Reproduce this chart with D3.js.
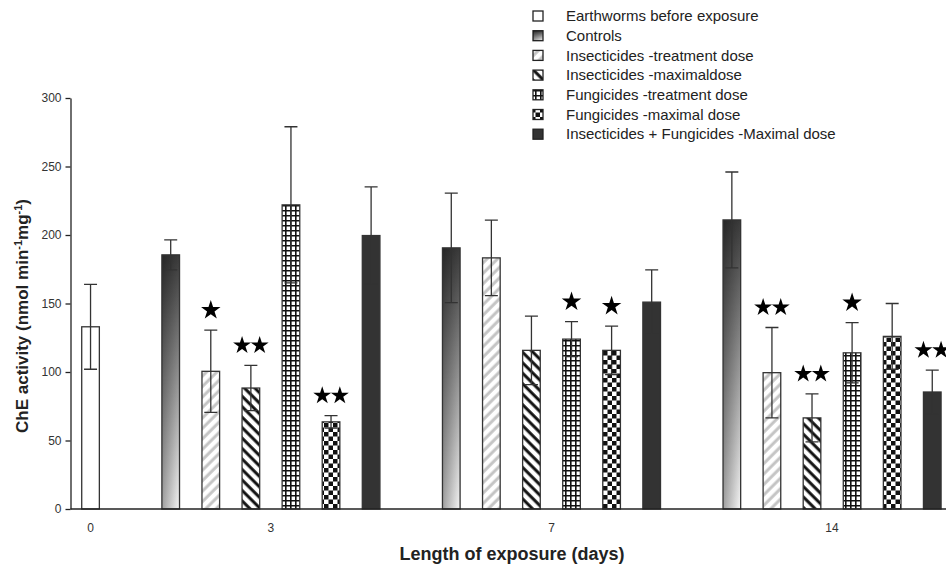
<!DOCTYPE html>
<html><head><meta charset="utf-8">
<script src="https://cdn.jsdelivr.net/npm/d3@7"></script>
<style>body{margin:0;background:#fff}svg{display:block;font-family:"Liberation Sans",Arial,sans-serif}</style>
</head><body><svg id="c" width="946" height="572"></svg>
<script>
// ---------- data ----------
const days = ["0", "3", "7", "14"];
const seriesNames = [
  "Earthworms before exposure",
  "Controls",
  "Insecticides -treatment dose",
  "Insecticides -maximaldose",
  "Fungicides -treatment dose",
  "Fungicides -maximal dose",
  "Insecticides + Fungicides -Maximal dose"
];
// mean ChE activity per day (index = series), null = not measured
const meanDay0  = [133];
const meanDay3  = [null, 185.5, 100.5, 88.3, 222, 63.6, 199.6];
const meanDay7  = [null, 190.6, 183.3, 115.8, 124, 115.8, 151];
const meanDay14 = [null, 211, 99.5, 66.5, 114, 126, 85.4];
// standard deviation (error bars)
const errDay0  = [31];
const errDay3  = [null, 11, 30, 16.5, 57, 4.5, 35.5];
const errDay7  = [null, 40, 27.5, 25, 12.7, 17.7, 23.5];
const errDay14 = [null, 35, 33, 17.5, 22, 24, 16];
// significance stars
const starsDay0  = [0];
const starsDay3  = [0, 0, 1, 2, 0, 2, 0];
const starsDay7  = [0, 0, 0, 0, 1, 1, 0];
const starsDay14 = [0, 0, 2, 2, 1, 0, 2];
const yTicks = [0, 50, 100, 150, 200, 250, 300];

const means = [meanDay0, meanDay3, meanDay7, meanDay14];
const errs  = [errDay0, errDay3, errDay7, errDay14];
const stars = [starsDay0, starsDay3, starsDay7, starsDay14];

// ---------- build ----------
const svg = d3.select("#c");
const W = 946;
const defs = svg.append("defs");

const gv = defs.append("linearGradient").attr("id","gCtrl").attr("x1",0).attr("y1",0).attr("x2",0).attr("y2",1);
gv.append("stop").attr("offset","0%").attr("stop-color","#3a3a3a");
gv.append("stop").attr("offset","100%").attr("stop-color","#f6f6f6");
const gh = defs.append("linearGradient").attr("id","gCtrlH").attr("x1",0).attr("y1",0).attr("x2",1).attr("y2",0);
gh.append("stop").attr("offset","0%").attr("stop-color","#000").attr("stop-opacity",0.35);
gh.append("stop").attr("offset","100%").attr("stop-color","#000").attr("stop-opacity",0);

const p1 = defs.append("pattern").attr("id","pInsT").attr("patternUnits","userSpaceOnUse")
  .attr("width",7.4).attr("height",7.4).attr("patternTransform","rotate(45)");
p1.append("rect").attr("width",7.4).attr("height",7.4).attr("fill","#fff");
p1.append("line").attr("x1",2).attr("y1",0).attr("x2",2).attr("y2",7.4).attr("stroke","#c4c4c4").attr("stroke-width",3);
const p2 = defs.append("pattern").attr("id","pInsM").attr("patternUnits","userSpaceOnUse")
  .attr("width",7.4).attr("height",7.4).attr("patternTransform","rotate(-45)");
p2.append("rect").attr("width",7.4).attr("height",7.4).attr("fill","#fff");
p2.append("line").attr("x1",2).attr("y1",0).attr("x2",2).attr("y2",7.4).attr("stroke","#111").attr("stroke-width",3);
const p3 = defs.append("pattern").attr("id","pFunT").attr("patternUnits","userSpaceOnUse")
  .attr("width",5).attr("height",5);
p3.append("rect").attr("width",5).attr("height",5).attr("fill","#fff");
p3.append("path").attr("d","M0.8,0V5M0,0.8H5").attr("stroke","#111").attr("stroke-width",1.6);
const p4 = defs.append("pattern").attr("id","pFunM").attr("patternUnits","userSpaceOnUse")
  .attr("width",9).attr("height",9);
p4.append("rect").attr("width",9).attr("height",9).attr("fill","#fff");
p4.append("rect").attr("width",4.5).attr("height",4.5).attr("fill","#111");
p4.append("rect").attr("x",4.5).attr("y",4.5).attr("width",4.5).attr("height",4.5).attr("fill","#111");

const fills = ["#ffffff","url(#gCtrl)","url(#pInsT)","url(#pInsM)","url(#pFunT)","url(#pFunM)","#333333"];

const key = (d, s) => d + "|" + s;
const slotKeys = days.flatMap((d, i) => means[i].map((_, s) => key(d, s)));

const x = d3.scaleBand().domain(slotKeys).range([70.5, 952.3]).padding(0);
const y = d3.scaleLinear().domain([0, 300]).range([509, 98]);
const bw = x.bandwidth() * 0.44;

const rows = [];
days.forEach((d, i) => means[i].forEach((v, s) => {
  if (v != null) rows.push({day: d, s, v, e: errs[i][s], st: stars[i][s], k: key(d, s)});
}));
const cx = r => x(r.k) + x.bandwidth() / 2;

const gBars = svg.append("g");
gBars.selectAll("rect.bar").data(rows).join("rect").attr("class","bar")
  .attr("x", r => cx(r) - bw/2).attr("width", bw)
  .attr("y", r => y(r.v)).attr("height", r => y(0) - y(r.v))
  .attr("fill", r => fills[r.s]);
gBars.selectAll("rect.shade").data(rows.filter(r => r.s === 1)).join("rect").attr("class","shade")
  .attr("x", r => cx(r) - bw/2).attr("width", bw)
  .attr("y", r => y(r.v)).attr("height", r => y(0) - y(r.v))
  .attr("fill", "url(#gCtrlH)");
gBars.selectAll("rect.outline").data(rows).join("rect").attr("class","outline")
  .attr("x", r => cx(r) - bw/2).attr("width", bw)
  .attr("y", r => y(r.v)).attr("height", r => y(0) - y(r.v))
  .attr("fill", "none").attr("stroke", "#333").attr("stroke-width", 1.3);

const gErr = svg.append("g").attr("stroke","#333").attr("stroke-width",1.3).attr("fill","none");
const capW = 6.5;
gErr.selectAll("path").data(rows).join("path")
  .attr("d", r => {
    const c = cx(r), t = y(r.v + r.e), b = y(r.v - r.e);
    return `M${c},${t}V${b}M${c-capW},${t}H${c+capW}M${c-capW},${b}H${c+capW}`;
  });

const gStar = svg.append("g").attr("fill","#000");
rows.filter(r => r.st > 0).forEach(r => {
  const c = cx(r), sy = y(r.v + r.e) - 21;
  const n = r.st;
  const sz = n === 1 ? 118 : 100;
  for (let j = 0; j < n; j++) {
    const off = n === 1 ? 0 : (j === 0 ? -8.8 : 8.8);
    gStar.append("path").attr("d", d3.symbol(d3.symbolStar, sz)())
      .attr("transform", `translate(${c + off},${sy + 1})`);
  }
});

const yAxis = d3.axisLeft(y).tickValues(yTicks).tickSize(5).tickSizeOuter(0).tickPadding(4);
const ga = svg.append("g").attr("transform","translate(70.5,0)").call(yAxis);
ga.select(".domain").attr("stroke","#222").attr("stroke-width",1.3);
ga.selectAll(".tick line").attr("stroke","#222").attr("stroke-width",1.3);
ga.selectAll(".tick text").attr("font-size",12).attr("fill","#333").attr("font-family","Liberation Sans, Arial, sans-serif");

svg.append("line").attr("x1",70.5).attr("x2",W).attr("y1",y(0)).attr("y2",y(0))
  .attr("stroke","#222").attr("stroke-width",1.5);

svg.append("g").selectAll("text").data(days).join("text")
  .attr("x", d => d3.mean(rows.filter(r => r.day === d), cx))
  .attr("y", 532).attr("text-anchor","middle").attr("font-size",12).attr("fill","#333")
  .text(d => d);

svg.append("text").attr("x",512).attr("y",560).attr("text-anchor","middle")
  .attr("font-size",18).attr("font-weight","bold").attr("fill","#222")
  .text("Length of exposure (days)");

const yt = svg.append("text").attr("transform","translate(28,316) rotate(-90)")
  .attr("text-anchor","middle").attr("font-size",17).attr("font-weight","bold").attr("fill","#222");
yt.append("tspan").text("ChE activity (nmol min");
yt.append("tspan").attr("baseline-shift","super").attr("font-size",11).text("-1");
yt.append("tspan").text("mg");
yt.append("tspan").attr("baseline-shift","super").attr("font-size",11).text("-1");
yt.append("tspan").text(")");

const lg = svg.append("g");
seriesNames.forEach((n, i) => {
  const cy = 16 + i * 19.7;
  lg.append("rect").attr("x",533).attr("y",cy-5).attr("width",10).attr("height",10)
    .attr("fill", fills[i]).attr("stroke","#222").attr("stroke-width",1.3);
  if (i === 1) lg.append("rect").attr("x",533).attr("y",cy-5).attr("width",10).attr("height",10).attr("fill","url(#gCtrlH)");
  lg.append("text").attr("x",566).attr("y",cy).attr("dy","0.35em")
    .attr("font-size",15).attr("fill","#222").text(n);
});
</script></body></html>
